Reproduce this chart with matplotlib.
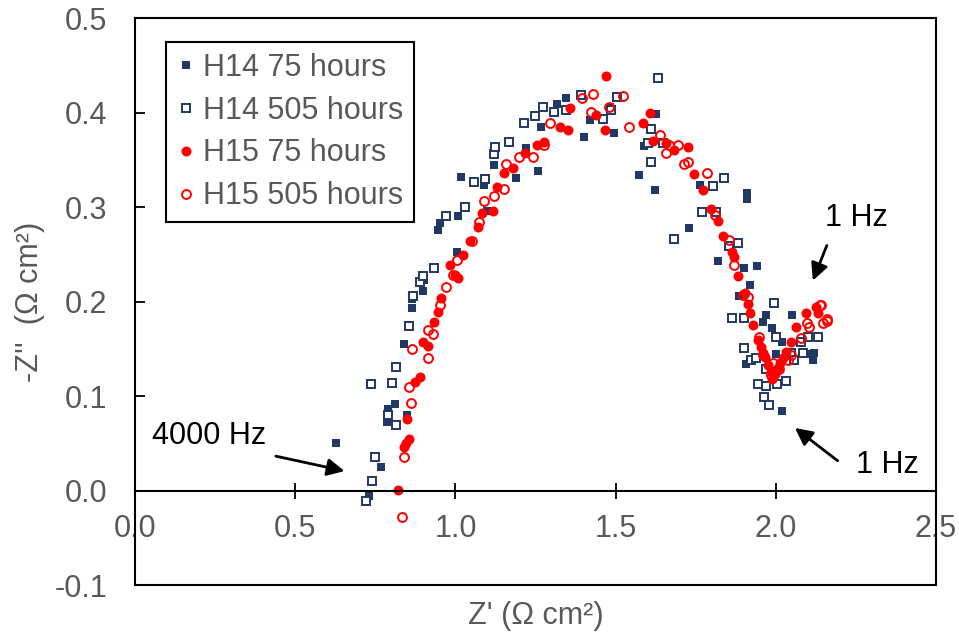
import matplotlib.pyplot as plt

plt.rcParams['font.family'] = ['Liberation Sans', 'DejaVu Sans']

NAVY = '#203864'
RED = '#FF0000'
GREY = '#595959'

labels = ['H14 75 hours', 'H14 505 hours', 'H15 75 hours', 'H15 505 hours']

h14_75_x = [0.628, 0.731, 0.769, 0.787, 0.791, 0.810, 0.850, 0.841, 0.866, 0.866,
            0.900, 0.903, 0.946, 0.953, 1.005, 1.009, 1.016, 1.088, 1.100, 1.119,
            1.188, 1.219, 1.259, 1.266, 1.316, 1.344, 1.400, 1.419, 1.484, 1.494,
            1.572, 1.588, 1.622, 1.625, 1.728, 1.763, 1.819, 1.884, 1.900, 1.910,
            1.910, 1.919, 1.940, 1.969, 1.959, 1.987, 2.020, 2.050, 1.906, 2.116,
            2.119, 2.110, 2.019, 2.000]
h14_75_y = [0.050, -0.006, 0.025, 0.073, 0.086, 0.092, 0.080, 0.155, 0.193, 0.203,
            0.211, 0.223, 0.276, 0.283, 0.252, 0.291, 0.332, 0.323, 0.296, 0.344,
            0.331, 0.362, 0.338, 0.385, 0.409, 0.415, 0.374, 0.392, 0.406, 0.378,
            0.334, 0.365, 0.318, 0.398, 0.278, 0.323, 0.243, 0.206, 0.235, 0.315,
            0.309, 0.218, 0.238, 0.186, 0.178, 0.172, 0.157, 0.186, 0.134, 0.138,
            0.146, 0.145, 0.084, 0.145]

h14_505_x = [0.722, 0.741, 0.750, 0.816, 0.790, 0.738, 0.803, 0.816, 0.856, 0.869,
             0.891, 0.900, 0.934, 0.970, 1.031, 1.059, 1.091, 1.119, 1.125, 1.166,
             1.213, 1.247, 1.272, 1.309, 1.344, 1.391, 1.462, 1.487, 1.503, 1.631,
             1.612, 1.600, 1.647, 1.612, 1.681, 1.769, 1.813, 1.803, 1.838, 1.853,
             1.881, 1.862, 1.900, 1.994, 2.000, 2.131, 1.900, 2.078, 2.100, 1.922,
             2.084, 2.047, 2.056, 1.969, 1.938, 1.944, 1.969, 2.003, 2.031, 1.963,
             1.978]
h14_505_y = [-0.011, 0.010, 0.035, 0.069, 0.080, 0.113, 0.114, 0.131, 0.174, 0.206,
             0.221, 0.227, 0.236, 0.291, 0.300, 0.327, 0.330, 0.356, 0.364, 0.369,
             0.389, 0.396, 0.406, 0.401, 0.403, 0.419, 0.393, 0.403, 0.416, 0.437,
             0.383, 0.368, 0.368, 0.348, 0.266, 0.295, 0.295, 0.322, 0.331, 0.259,
             0.262, 0.183, 0.183, 0.198, 0.162, 0.162, 0.151, 0.157, 0.162, 0.138,
             0.146, 0.146, 0.138, 0.129, 0.140, 0.113, 0.111, 0.113, 0.116, 0.099,
             0.091]

h15_75_x = [0.822, 0.838, 0.847, 0.856, 0.850, 0.875, 0.888, 0.900, 0.916, 0.934,
            0.947, 0.956, 0.984, 1.000, 1.009, 1.025, 1.047, 1.069, 1.084, 1.116,
            1.131, 1.153, 1.181, 1.216, 1.256, 1.278, 1.328, 1.350, 1.359, 1.440,
            1.466, 1.469, 1.584, 1.606, 1.616, 1.656, 1.681, 1.725, 1.744, 1.772,
            1.797, 1.819, 1.834, 1.862, 1.869, 1.881, 1.903, 1.912, 1.919, 1.928,
            1.944, 1.953, 1.966, 1.975, 1.984, 1.997, 2.006, 2.022, 2.031, 2.047,
            2.063, 2.094, 2.125, 2.131, 1.988, 2.000, 2.013, 1.960]
h15_75_y = [0.001, 0.046, 0.050, 0.055, 0.076, 0.115, 0.120, 0.157, 0.153, 0.178,
            0.189, 0.204, 0.239, 0.228, 0.225, 0.249, 0.264, 0.279, 0.294, 0.296,
            0.321, 0.336, 0.341, 0.357, 0.366, 0.369, 0.385, 0.382, 0.405, 0.397,
            0.382, 0.439, 0.389, 0.400, 0.370, 0.368, 0.360, 0.364, 0.335, 0.318,
            0.298, 0.285, 0.269, 0.252, 0.247, 0.227, 0.209, 0.197, 0.188, 0.175,
            0.159, 0.152, 0.141, 0.133, 0.125, 0.123, 0.130, 0.140, 0.147, 0.157,
            0.173, 0.188, 0.194, 0.188, 0.118, 0.128, 0.135, 0.146]

h15_505_x = [0.834, 0.838, 0.862, 0.856, 0.866, 0.916, 0.913, 0.931, 0.953, 0.972,
             0.994, 1.006, 1.053, 1.075, 1.088, 1.122, 1.153, 1.159, 1.200, 1.241,
             1.275, 1.294, 1.394, 1.431, 1.422, 1.478, 1.522, 1.541, 1.638, 1.666,
             1.656, 1.694, 1.713, 1.725, 1.784, 1.809, 1.853, 1.869, 1.897, 1.912,
             1.947, 1.959, 1.991, 1.984, 2.009, 2.038, 2.047, 2.078, 2.097, 2.103,
             2.138, 2.147, 2.159, 2.141, 2.159]
h15_505_y = [-0.028, 0.035, 0.093, 0.110, 0.150, 0.140, 0.170, 0.166, 0.196, 0.215,
             0.228, 0.244, 0.264, 0.284, 0.306, 0.312, 0.319, 0.346, 0.353, 0.353,
             0.366, 0.389, 0.415, 0.420, 0.401, 0.406, 0.417, 0.385, 0.376, 0.366,
             0.357, 0.366, 0.346, 0.348, 0.336, 0.292, 0.265, 0.239, 0.207, 0.205,
             0.162, 0.143, 0.135, 0.122, 0.129, 0.138, 0.143, 0.161, 0.177, 0.173,
             0.196, 0.177, 0.179, 0.196, 0.182]

fig = plt.figure(figsize=(9.59, 6.35), dpi=100)
ax = fig.add_axes([0.1408, 0.0787, 0.8352, 0.8929])

ax.plot(h14_75_x, h14_75_y, 's', color=NAVY, ms=6.3, mew=0, label=labels[0])
ax.plot(h14_505_x, h14_505_y, 's', mfc='white', mec=NAVY, ms=5.8, mew=1.4, label=labels[1])
ax.plot(h15_75_x, h15_75_y, 'o', color=RED, ms=7.2, mew=0, label=labels[2])
ax.plot(h15_505_x, h15_505_y, 'o', mfc='none', mec=RED, ms=6.4, mew=1.4, label=labels[3])

ax.set_xlim(0, 2.5)
ax.set_ylim(-0.1, 0.5)
ax.set_xticks([0.0, 0.5, 1.0, 1.5, 2.0, 2.5])
ax.set_yticks([-0.1, 0.0, 0.1, 0.2, 0.3, 0.4, 0.5])
ax.set_xticklabels(['0.0', '0.5', '1.0', '1.5', '2.0', '2.5'])
ax.set_yticklabels(['-0.1', '0.0', '0.1', '0.2', '0.3', '0.4', '0.5'])

# x axis sits at y = 0, frame is closed by a separate line
ax.spines['bottom'].set_position(('data', 0))
ax.plot([0, 1], [0, 0], transform=ax.transAxes, color='black', lw=1.5, clip_on=False)
for s in ['left', 'right', 'top', 'bottom']:
    ax.spines[s].set_linewidth(1.5)
ax.tick_params(axis='x', direction='inout', length=12, width=1.3, pad=11,
               labelsize=22, labelcolor=GREY)
ax.tick_params(axis='y', direction='in', length=7, width=1.3, pad=20,
               labelsize=22, labelcolor=GREY)

ax.set_xlabel("Z' (\u03a9 cm\u00b2)", fontsize=22, color=GREY)
ax.xaxis.set_label_coords(0.5, -0.028)
ax.set_ylabel("-Z''  (\u03a9 cm\u00b2)", fontsize=22, color=GREY)
ax.yaxis.set_label_coords(-0.112, 0.5)

arrow = dict(arrowstyle='-|>', mutation_scale=26, lw=2, color='black')
ax.annotate('', xy=(0.6625, 0.020), xytext=(0.431, 0.037), arrowprops=arrow)
ax.text(0.231, 0.058, '4000 Hz', fontsize=22, ha='center', va='center')
ax.annotate('', xy=(2.1125, 0.2195), xytext=(2.1625, 0.262), arrowprops=arrow)
ax.text(2.253, 0.288, '1 Hz', fontsize=22, ha='center', va='center')
ax.annotate('', xy=(2.053, 0.068), xytext=(2.2, 0.0297), arrowprops=arrow)
ax.text(2.347, 0.0265, '1 Hz', fontsize=22, ha='center', va='center')

leg = ax.legend(loc='upper left', bbox_to_anchor=(0.0387, 0.9577), borderaxespad=0,
                fontsize=22, numpoints=1, handlelength=0.6, handletextpad=0.25,
                labelspacing=0.42, borderpad=0.35, fancybox=False, framealpha=1)
leg.get_frame().set_edgecolor('black')
leg.get_frame().set_linewidth(1.5)
for t in leg.get_texts():
    t.set_color(GREY)

plt.savefig('out.png', dpi=100)
plt.close()
